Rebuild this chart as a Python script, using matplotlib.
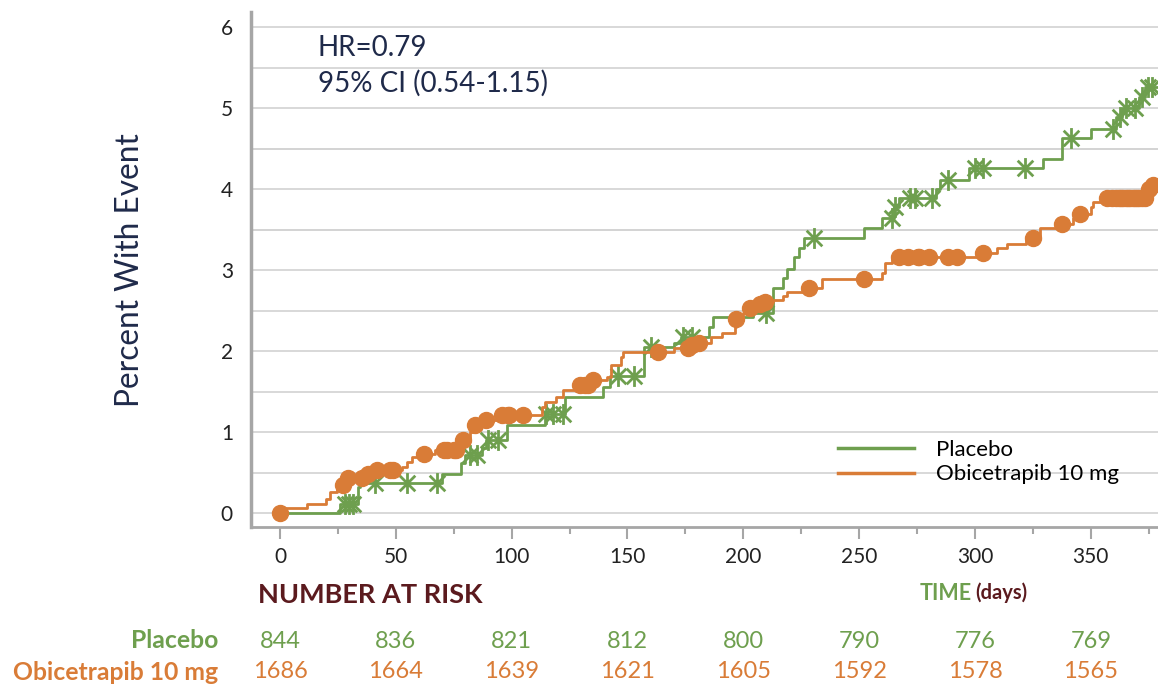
import numpy as np
import matplotlib
matplotlib.use("Agg")
import matplotlib.pyplot as plt
import matplotlib.transforms as mtransforms
from matplotlib.path import Path
from matplotlib.lines import Line2D

plt.rcParams['font.family'] = ['Lato', 'DejaVu Sans']

# step curves (day, cumulative percent with event)
placebo_t = [0, 26, 33.5, 34.5, 70, 78, 80, 87, 89, 98, 114.5, 123, 139.5, 142.5, 157, 170, 173,
             185, 187, 204, 213, 217, 219, 222, 224, 226, 252, 260, 265, 267, 283, 285, 297.5,
             329.5, 337.6, 350, 361, 363.5, 371, 373.5, 380]
placebo_y = [0, 0.12, 0.33, 0.37, 0.49, 0.62, 0.72, 0.81, 0.90, 1.09, 1.23, 1.43, 1.56, 1.69, 2.05, 2.10, 2.18,
             2.30, 2.42, 2.47, 2.78, 2.90, 3.02, 3.16, 3.28, 3.40, 3.52, 3.64, 3.78, 3.89, 4.01, 4.12, 4.26,
             4.38, 4.63, 4.75, 4.89, 5.01, 5.14, 5.26, 5.26]
placebo_cens = [28, 30, 31.5, 41, 55, 68, 82, 85, 90, 94, 115, 118, 122, 146, 153, 160, 174, 178,
                210, 230.5, 264, 265.5, 272, 274, 281.5, 288.5, 300, 303.5, 321.7, 341.5, 359.7,
                362.7, 365, 369, 372, 374.5, 376.5]

obi_t = [0, 2, 11.7, 20, 21.6, 24.6, 29, 37, 40, 52.7, 55, 57, 60, 67, 77, 79, 82, 84, 87, 95,
         113, 114.5, 119, 122, 127, 134, 141, 143, 147, 148, 170, 177, 178.5, 186, 191, 196.5, 197,
         200, 202.5, 206, 208, 213, 217, 219, 227, 234, 260, 261, 264, 303, 309.6, 314, 322, 328,
         337, 342.5, 345, 350, 351, 355, 374, 376, 378, 380]
obi_y = [0, 0.06, 0.12, 0.18, 0.26, 0.35, 0.43, 0.49, 0.53, 0.57, 0.63, 0.69, 0.73, 0.78, 0.84, 0.90, 1.00, 1.09, 1.15, 1.21,
         1.31, 1.37, 1.43, 1.52, 1.58, 1.64, 1.68, 1.83, 1.93, 1.99, 2.04, 2.08, 2.10, 2.18, 2.22, 2.30, 2.40,
         2.47, 2.53, 2.59, 2.61, 2.63, 2.68, 2.73, 2.78, 2.89, 2.97, 3.09, 3.16, 3.21, 3.27, 3.33, 3.40, 3.52,
         3.57, 3.64, 3.70, 3.78, 3.84, 3.89, 4.00, 4.05, 4.08, 4.08]
obi_cens = [0, 27, 29.5, 35.5, 38, 42, 47.5, 49, 62, 71, 72, 75, 76, 79, 84, 89, 96, 98.5, 99, 105,
            129.5, 131.7, 133, 135, 163, 176, 178, 181, 197, 203, 207, 209.5, 228.5, 252, 267, 271,
            275.5, 276, 280, 288.4, 292.3, 303.5, 325, 337.6, 345.4, 357, 359, 361, 362, 363, 364,
            365, 366, 367, 368, 369, 370, 371, 372, 373.5, 375, 377]

risk_days = [0, 50, 100, 150, 200, 250, 300, 350]
risk_placebo = [844, 836, 821, 812, 800, 790, 776, 769]
risk_obi = [1686, 1664, 1639, 1621, 1605, 1592, 1578, 1565]

green = '#6e9f4e'
orange = '#d97c37'
navy = '#1f2a4a'
maroon = '#5b1a1e'


def step_value(times, vals, t):
    idx = np.searchsorted(times, t, side='right') - 1
    return np.array(vals)[idx]


star = Path([(0, -1), (0, 1), (-0.75, -0.75), (0.75, 0.75), (-0.75, 0.75), (0.75, -0.75)],
            [Path.MOVETO, Path.LINETO] * 3)

fig = plt.figure(figsize=(11.58, 6.84), dpi=100)
ax = fig.add_axes([251/1158, 1-527/684, 907/1158, 515/684])

ax.step(placebo_t, placebo_y, where='post', color=green, lw=2, zorder=3)
ax.plot(placebo_cens, step_value(placebo_t, placebo_y, placebo_cens), ls='none',
        marker=star, ms=15, mew=2, color=green, zorder=4)
ax.step(obi_t, obi_y, where='post', color=orange, lw=2, zorder=5)
ax.plot(obi_cens, step_value(obi_t, obi_y, obi_cens), ls='none',
        marker='o', ms=11.5, color=orange, mec=orange, zorder=6)

ax.set_xlim(-12.5, 379)
ax.set_ylim(-0.17, 6.19)
ax.set_xticks(risk_days)
ax.set_xticks(np.arange(25, 380, 50), minor=True)
ax.set_yticks(range(0, 7))
ax.set_yticks(np.arange(0.5, 6.5, 1), minor=True)
ax.grid(axis='y', which='both', color='#d6d6d6', lw=1.3, zorder=0)
for yy in [3.5, 4.5]:
    ax.axhline(yy, color='#bdbdbd', lw=1.3, zorder=0)

for s in ['top', 'right']:
    ax.spines[s].set_visible(False)
ax.spines['left'].set_color('#a6a6a6')
ax.spines['left'].set_linewidth(2.5)
ax.spines['bottom'].set_color('#a6a6a6')
ax.spines['bottom'].set_linewidth(2)
ax.tick_params(axis='x', which='major', length=8.5, width=1.5, color='#a6a6a6',
               labelsize=15, pad=6, labelcolor='#222222')
ax.tick_params(axis='x', which='minor', length=5, width=1.5, color='#a6a6a6')
ax.tick_params(axis='y', which='both', length=0, labelsize=15, pad=13, labelcolor='#222222')

handles = [Line2D([], [], color=green, lw=2.5), Line2D([], [], color=orange, lw=2.5)]
ax.legend(handles, ['Placebo', 'Obicetrapib 10 mg'], loc='upper left',
          bbox_to_anchor=(838/1158, 1-440/684), bbox_transform=fig.transFigure,
          frameon=False, fontsize=16, handlelength=3.4, handletextpad=1.0,
          labelspacing=0.2, borderpad=0, borderaxespad=0)

fig.text(130/1158, 1-270/684, 'Percent With Event', rotation=90, ha='center', va='center',
         fontsize=22.8, color=navy)
fig.text(318/1158, 1-48/684, 'HR=0.79', ha='left', va='center', fontsize=20, color=navy)
fig.text(318/1158, 1-83/684, '95% CI (0.54-1.15)', ha='left', va='center', fontsize=20, color=navy)

fig.text(258/1158, 1-595/684, 'NUMBER AT RISK', ha='left', va='center', fontsize=19.5,
         fontweight='bold', color=maroon)
fig.text(920/1158, 1-593/684, 'TIME', ha='left', va='center', fontsize=15.5,
         fontweight='bold', color=green)
fig.text(975/1158, 1-593/684, '(days)', ha='left', va='center', fontsize=14.5,
         fontweight='bold', color=maroon)

fig.text(218/1158, 1-641/684, 'Placebo', ha='right', va='center', fontsize=17.8,
         fontweight='bold', color=green)
fig.text(218/1158, 1-672/684, 'Obicetrapib 10 mg', ha='right', va='center', fontsize=17.8,
         fontweight='bold', color=orange)

trans = mtransforms.blended_transform_factory(ax.transData, fig.transFigure)
for d, p, o in zip(risk_days, risk_placebo, risk_obi):
    fig.text(d, 1-641/684, str(p), transform=trans, ha='center', va='center',
             fontsize=17, color=green)
    fig.text(d, 1-672/684, str(o), transform=trans, ha='center', va='center',
             fontsize=17, color=orange)

fig.savefig('out.png', dpi=100)
